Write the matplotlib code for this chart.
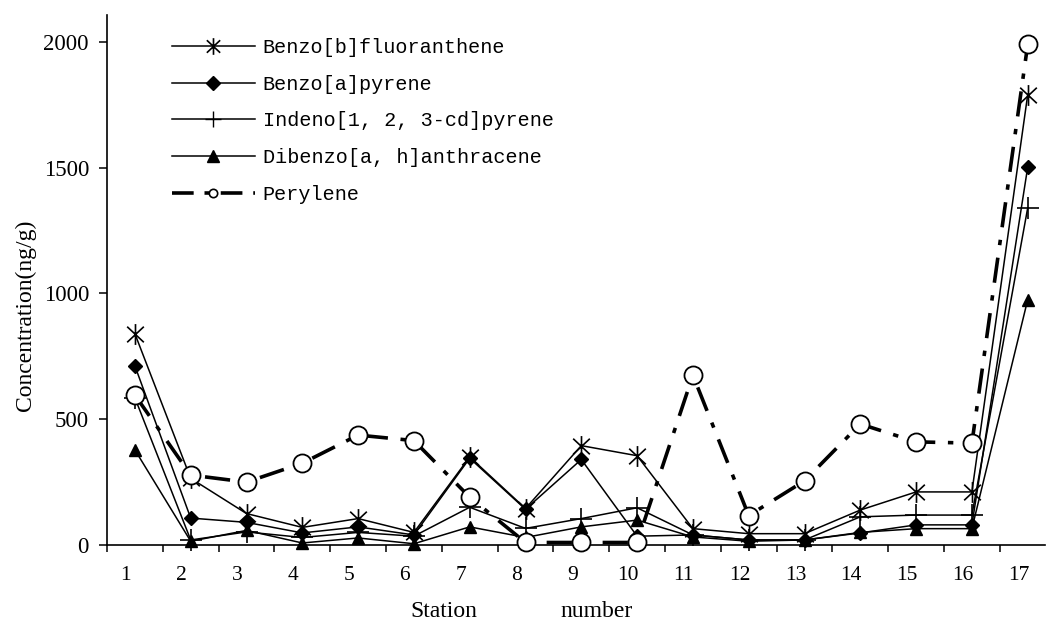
import matplotlib
matplotlib.use('Agg')
import matplotlib.pyplot as plt
from matplotlib.lines import Line2D
from matplotlib.path import Path
import matplotlib.transforms as mtransforms
import numpy as np

# ---- data ----
stations = list(range(1, 18))
station_labels = [str(s) for s in stations]
series_names = ["Benzo[b]fluoranthene", "Benzo[a]pyrene", "Indeno[1, 2, 3-cd]pyrene",
                "Dibenzo[a, h]anthracene", "Perylene"]
bbf = [840, 265, 125, 70, 105, 50, 350, 145, 395, 355, 65, 45, 45, 139, 211, 211, 1790]
bap = [712, 107, 90, 48, 72, 40, 345, 142, 340, 35, 40, 20, 20, 48, 80, 80, 1502]
icdp = [585, 20, 52, 30, 50, 35, 150, 66, 105, 148, 40, 20, 20, 112, 119, 119, 1340]
dbaha = [378, 15, 58, 8, 28, 5, 72, 30, 72, 99, 32, 15, 20, 50, 65, 65, 975]
perylene = [596, 278, 250, 325, 437, 415, 190, 10, 10, 10, 675, 117, 255, 481, 410, 405, 1990]
yticks = [0, 500, 1000, 1500, 2000]

W, H = 1047, 620
fig = plt.figure(figsize=(W / 100, H / 100), dpi=100)
ax = fig.add_axes([107 / W, 1 - 545 / H, (1045 - 107) / W, (545 - 15) / H])

ast = Path([(0, -1), (0, 1), (-0.8, -0.75), (0.8, 0.75), (-0.8, 0.75), (0.8, -0.75)],
           [Path.MOVETO, Path.LINETO, Path.MOVETO, Path.LINETO, Path.MOVETO, Path.LINETO])

thin = 1.1
ax.plot(stations, bbf, color='k', lw=thin, marker=ast, ms=15, mew=1.2, mfc='none', clip_on=False, zorder=3)
ax.plot(stations, bap, color='k', lw=thin, marker='D', ms=7.5, clip_on=False, zorder=3)
ax.plot(stations, icdp, color='k', lw=thin, marker='+', ms=16, mew=1.2, clip_on=False, zorder=3)
ax.plot(stations, dbaha, color='k', lw=thin, marker='^', ms=9, clip_on=False, zorder=3)
per_ls = (0, (7, 3.5, 1.5, 3.5))
ax.plot(stations, perylene, color='k', lw=2.6, ls=per_ls, marker='o', ms=13,
        mfc='white', mec='k', mew=1.3, clip_on=False, zorder=5)

ax.set_xlim(0.5, 17.31)
ax.set_ylim(0, 2107)
for s in ['top', 'right']:
    ax.spines[s].set_visible(False)
for s in ['left', 'bottom']:
    ax.spines[s].set_linewidth(1.2)

ax.set_xticks(stations)
ax.set_xticklabels(station_labels, fontsize=15.5, family='Liberation Serif')
ax.set_xticks(np.arange(0.5, 17, 1), minor=True)
ax.tick_params(axis='x', which='major', length=0, pad=15)
ax.tick_params(axis='x', which='minor', length=5, width=1.1, direction='out')
off = mtransforms.ScaledTranslation(-9 / 100, 0, fig.dpi_scale_trans)
for lbl in ax.get_xticklabels():
    lbl.set_transform(lbl.get_transform() + off)

ax.set_yticks(yticks)
ax.set_yticklabels([str(v) for v in yticks], fontsize=16.5, family='Liberation Serif')
ax.tick_params(axis='y', length=6, width=1.1, direction='out', pad=7)

fig.text(25 / W, 1 - 315 / H, 'Concentration(ng/g)', rotation=90, ha='center', va='center',
         fontsize=17, family='Liberation Serif')
fig.text(444 / W, 1 - 617 / H, 'Station', ha='center', va='baseline', fontsize=17, family='Liberation Serif')
fig.text(597 / W, 1 - 617 / H, 'number', ha='center', va='baseline', fontsize=17, family='Liberation Serif')

handles = [
    Line2D([], [], color='k', lw=thin, marker=ast, ms=12, mew=1.2),
    Line2D([], [], color='k', lw=thin, marker='D', ms=7),
    Line2D([], [], color='k', lw=thin, marker='+', ms=12, mew=1.0),
    Line2D([], [], color='k', lw=thin, marker='^', ms=8),
    Line2D([], [], color='k', lw=2.6, ls=(0, (6, 3, 1.5, 3)), marker='o', ms=6, mfc='white', mew=1.2),
]
leg = ax.legend(handles, series_names, loc='upper left',
                bbox_to_anchor=(172 / W, 1 - 38 / H), bbox_transform=fig.transFigure,
                frameon=False, borderpad=0, borderaxespad=0, handlelength=4.1,
                handletextpad=0.4, labelspacing=0.88,
                prop={'family': 'Liberation Mono', 'size': 14.5})

fig.savefig('out.png', dpi=100)
